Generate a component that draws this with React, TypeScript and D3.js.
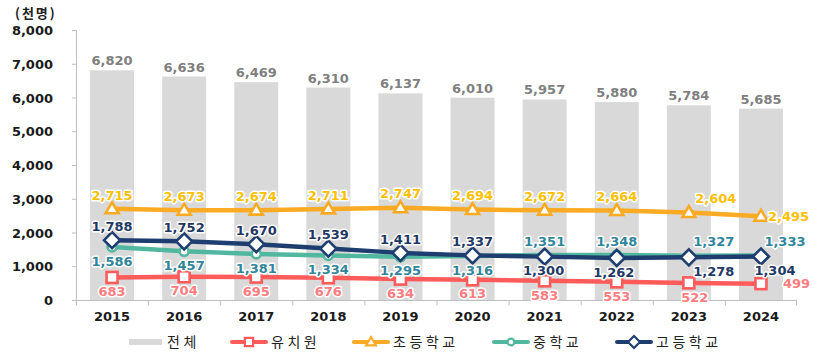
import React from "react";
import * as d3 from "d3";

const years = ["2015", "2016", "2017", "2018", "2019", "2020", "2021", "2022", "2023", "2024"];
const total = [6820, 6636, 6469, 6310, 6137, 6010, 5957, 5880, 5784, 5685];
const kinder = [683, 704, 695, 676, 634, 613, 583, 553, 522, 499];
const elem = [2715, 2673, 2674, 2711, 2747, 2694, 2672, 2664, 2604, 2495];
const middle = [1586, 1457, 1381, 1334, 1295, 1316, 1351, 1348, 1327, 1333];
const high = [1788, 1752, 1670, 1539, 1411, 1337, 1300, 1262, 1278, 1304];
const yTicks = [0, 1000, 2000, 3000, 4000, 5000, 6000, 7000, 8000];
const legendLabels = ["전체", "유치원", "초등학교", "중학교", "고등학교"];
const unitLabel = "(천명)";

// label placement per point: "a" above, "b" below, "r" right
const kinderPos = ["b", "b", "b", "b", "b", "b", "b", "b", "b", "r"];
const elemPos = ["a", "a", "a", "a", "a", "a", "a", "a", "a", "r"];
const middlePos = ["b", "b", "b", "b", "b", "b", "a", "a", "a", "a"];
const highPos = ["a", "a", "a", "a", "a", "a", "b", "b", "b", "b"];

const W = 822, H = 357;
const x = d3.scaleBand<string>().domain(years).range([76, 797]).paddingInner(0.39).paddingOuter(0.195);
const y = d3.scaleLinear().domain([0, 8000]).range([300.5, 30.5]);
const fmt = d3.format(",");
const cx = (i: number) => (x(years[i]) as number) + x.bandwidth() / 2;

const NUM_FONT = "'DejaVu Sans', Verdana, sans-serif";
const KR_FONT = "'Noto Sans CJK KR', 'Noto Sans', sans-serif";

type Series = {
  name: string; values: number[]; pos: string[]; line: string; label: string;
  marker: "square" | "triangle" | "circle" | "diamond";
  dxShift: number[];
};

const seriesList: Series[] = [
  { name: legendLabels[1], values: kinder, pos: kinderPos, line: "#ff5b5b", label: "#ff7c80", marker: "square", dxShift: [0, 0, 0, 0, 0, 0, 0, 0, 6, 0] },
  { name: legendLabels[2], values: elem, pos: elemPos, line: "#fbaa23", label: "#ffc000", marker: "triangle", dxShift: [0, 0, 0, 0, 0, 0, 0, 0, 27, 0] },
  { name: legendLabels[3], values: middle, pos: middlePos, line: "#52b79f", label: "#31869b", marker: "circle", dxShift: [0, 0, 0, 0, 0, 0, 0, 0, 25, 24] },
  { name: legendLabels[4], values: high, pos: highPos, line: "#1f3e70", label: "#1f3864", marker: "diamond", dxShift: [0, 0, 0, 0, 0, 0, -1, -3, 25, 14] },
];

function Marker({ kind, px, py, color, s = 1 }: { kind: string; px: number; py: number; color: string; s?: number }) {
  const sw = 2.6 * (s < 1 ? 0.85 : 1);
  if (kind === "square") return <rect x={px - 5.5 * s} y={py - 5.5 * s} width={11 * s} height={11 * s} fill="#fff" stroke={color} strokeWidth={sw} />;
  if (kind === "triangle") {
    const hw = 6.5 * s, h = 11 * s;
    return <path d={`M${px},${py - h * 0.6}L${px + hw},${py + h * 0.4}L${px - hw},${py + h * 0.4}Z`} fill="#fff" stroke={color} strokeWidth={sw} strokeLinejoin="miter" />;
  }
  if (kind === "circle") return <circle cx={px} cy={py} r={4.5 * s} fill="#fff" stroke={color} strokeWidth={sw} />;
  const r = 8 * s;
  return <path d={`M${px},${py - r}L${px + r},${py}L${px},${py + r}L${px - r},${py}Z`} fill="#fff" stroke={color} strokeWidth={sw} />;
}

export default function App() {
  const line = d3.line<number>().x((_, i) => cx(i)).y((v) => y(v));
  const labelStyle = { paintOrder: "stroke" as const, stroke: "#fff", strokeWidth: 3, strokeLinejoin: "round" as const };

  const legendItems = [
    { x: 129, kind: "bar" },
    { x: 230, s: seriesList[0] },
    { x: 352, s: seriesList[1] },
    { x: 492, s: seriesList[2] },
    { x: 615, s: seriesList[3] },
  ];

  return (
    <div style={{ position: "absolute", left: 0, top: 0 }}>
      <svg width={W} height={H} style={{ display: "block", background: "#fff" }}>
        {/* unit */}
        <text x={15} y={13} dy="0.36em" fontFamily={KR_FONT} fontWeight={700} fontSize={13} letterSpacing={2} fill="#222">{unitLabel}</text>
        {/* y axis */}
        <line x1={76.5} x2={76.5} y1={y(8000)} y2={y(0)} stroke="#bfbfbf" strokeWidth={1} />
        {yTicks.map((t) => (
          <g key={t}>
            <line x1={72} x2={76.5} y1={y(t)} y2={y(t)} stroke="#bfbfbf" />
            <text x={53} y={y(t)} dy="0.36em" textAnchor="end" fontFamily={NUM_FONT} fontWeight={700} fontSize={13} fill="#1a1a1a">{fmt(t)}</text>
          </g>
        ))}
        {/* bars */}
        {total.map((v, i) => (
          <rect key={i} x={x(years[i])} y={y(v)} width={x.bandwidth()} height={y(0) - y(v)} fill="#d9d9d9" />
        ))}
        {/* x axis */}
        <line x1={76} x2={797} y1={y(0)} y2={y(0)} stroke="#bfbfbf" />
        {years.map((yr, i) => (
          <line key={"t" + yr} x1={76.5 + i * x.step()} x2={76.5 + i * x.step()} y1={y(0)} y2={y(0) + 5} stroke="#bfbfbf" />
        ))}
        <line x1={796.5} x2={796.5} y1={y(0)} y2={y(0) + 5} stroke="#bfbfbf" />
        {years.map((yr, i) => (
          <text key={"x" + yr} x={cx(i)} y={321} textAnchor="middle" fontFamily={NUM_FONT} fontWeight={700} fontSize={13} fill="#1a1a1a">{yr}</text>
        ))}
        {/* bar labels */}
        {total.map((v, i) => (
          <text key={"bl" + i} x={cx(i)} y={y(v) - 5} textAnchor="middle" fontFamily={NUM_FONT} fontWeight={700} fontSize={13} fill="#7f7f7f" style={labelStyle}>{fmt(v)}</text>
        ))}
        {/* lines */}
        {seriesList.map((s) => (
          <path key={"l" + s.name} d={line(s.values) as string} fill="none" stroke={s.line} strokeWidth={4.5} strokeLinejoin="round" strokeLinecap="round" />
        ))}
        {seriesList.map((s) => (
          <g key={"m" + s.name}>
            {s.values.map((v, i) => <Marker key={i} kind={s.marker} px={cx(i)} py={y(v)} color={s.line} />)}
          </g>
        ))}
        {/* point labels */}
        {seriesList.map((s) => (
          <g key={"pl" + s.name}>
            {s.values.map((v, i) => {
              const p = s.pos[i];
              let tx = cx(i) + s.dxShift[i];
              let ty = y(v);
              let anchor = "middle";
              if (p === "a") ty = y(v) - 14;
              else if (p === "b") ty = y(v) + 14;
              else { anchor = "start"; tx = cx(i) + (s.marker === "square" ? 22 : 7); }
              return (
                <text key={i} x={tx} y={ty} dy="0.36em" textAnchor={anchor} fontFamily={NUM_FONT} fontWeight={700} fontSize={13} fill={s.label} style={labelStyle}>{fmt(v)}</text>
              );
            })}
          </g>
        ))}
        {/* legend */}
        {legendItems.map((it, k) => {
          const ly = 342;
          if (it.kind === "bar") {
            return (
              <g key={"lg" + k}>
                <rect x={it.x} y={ly - 3} width={33} height={6} fill="#d9d9d9" />
                <text x={it.x + 38} y={ly} dy="0.36em" fontFamily={KR_FONT} fontSize={14} letterSpacing={3.5} fill="#222">{legendLabels[0]}</text>
              </g>
            );
          }
          const s = it.s as Series;
          return (
            <g key={"lg" + k}>
              <line x1={it.x + 2} x2={it.x + 36} y1={ly} y2={ly} stroke={s.line} strokeWidth={4} strokeLinecap="round" />
              <Marker kind={s.marker} px={it.x + 19} py={ly} color={s.line} s={0.75} />
              <text x={it.x + 41} y={ly} dy="0.36em" fontFamily={KR_FONT} fontSize={14} letterSpacing={3.5} fill="#222">{s.name}</text>
            </g>
          );
        })}
      </svg>
    </div>
  );
}
